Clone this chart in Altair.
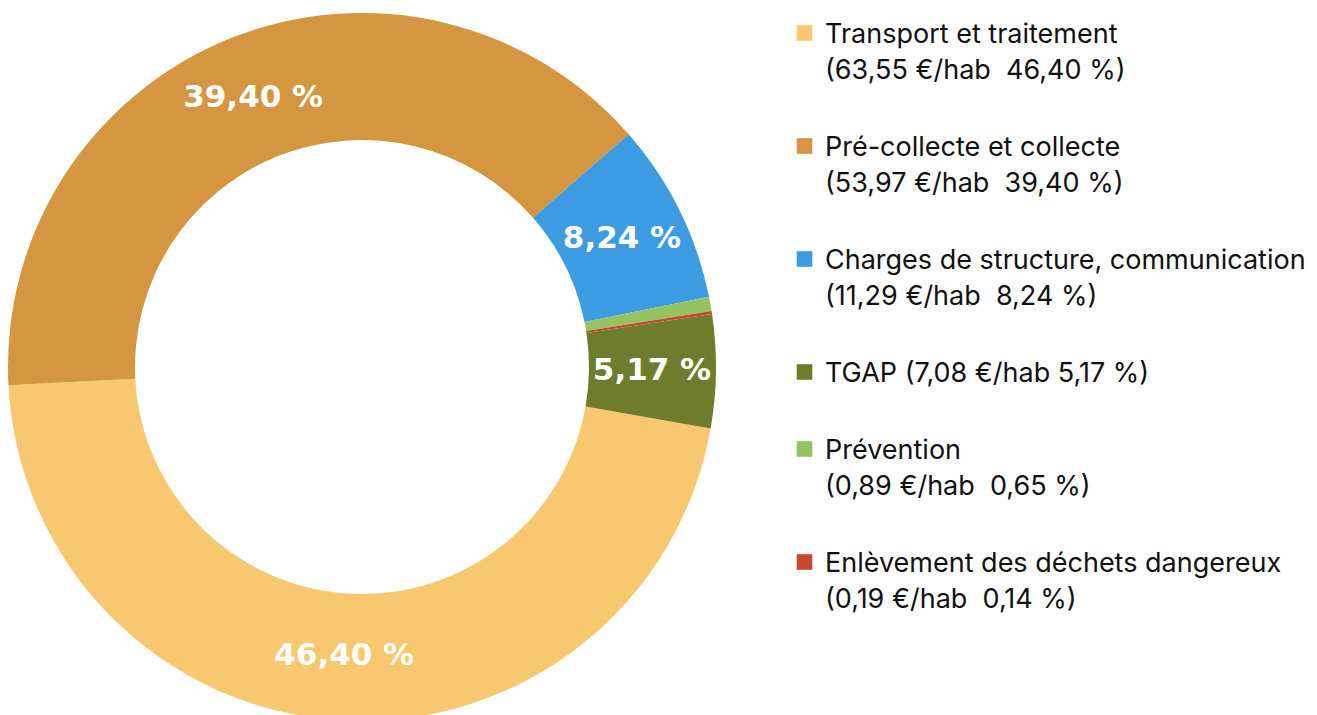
import math
import altair as alt
import pandas as pd

# Data (clockwise order in the ring, starting just below 3 o'clock)
categories = [
    "Transport et traitement",
    "Pré-collecte et collecte",
    "Charges de structure, communication",
    "Prévention",
    "Enlèvement des déchets dangereux",
    "TGAP",
]
eur_per_hab = [63.55, 53.97, 11.29, 0.89, 0.19, 7.08]
percents = [46.40, 39.40, 8.24, 0.65, 0.14, 5.17]
colors = ["#F7C86F", "#D49641", "#3C9BE1", "#93C461", "#C8472E", "#6E7C2B"]
legend_order = [
    "Transport et traitement",
    "Pré-collecte et collecte",
    "Charges de structure, communication",
    "TGAP",
    "Prévention",
    "Enlèvement des déchets dangereux",
]


def fr(v):
    return f"{v:.2f}".replace(".", ",")


def legend_label(cat, e, p):
    if cat == "TGAP":
        return f"TGAP ({fr(e)} €/hab {fr(p)} %)"
    return f"{cat}|({fr(e)} €/hab \u00a0{fr(p)} %)"


labels = [legend_label(c, e, p) for c, e, p in zip(categories, eur_per_hab, percents)]
df = pd.DataFrame({
    "cat": categories,
    "legend": labels,
    "pct": percents,
    "order": list(range(len(categories))),
    "txt": [f"{fr(p)} %" if p > 5 else "" for p in percents],
})

color_map = dict(zip(categories, colors))
legend_domain = [labels[categories.index(c)] for c in legend_order]
legend_range = [color_map[c] for c in legend_order]

start = math.radians(100)

base = alt.Chart(df).encode(
    theta=alt.Theta("pct:Q", stack=True,
                    scale=alt.Scale(range=[start, start + 2 * math.pi])),
    order=alt.Order("order:Q"),
)

arcs = base.mark_arc(innerRadius=227, outerRadius=354, strokeWidth=0).encode(
    color=alt.Color(
        "legend:N",
        scale=alt.Scale(domain=legend_domain, range=legend_range),
        legend=alt.Legend(
            title=None,
            orient="none",
            legendX=783,
            legendY=-5,
            symbolType="M-0.78,0.37H0.78V1.93H-0.78Z",
            symbolSize=400,
            symbolStrokeWidth=0,
            symbolOpacity=1,
            labelFont="Inter",
            labelFontSize=27,
            labelColor="#111111",
            labelLimit=600,
            labelExpr="split(datum.label, '|')",
            labelOffset=7,
            rowPadding=37,
            labelBaseline="top",
        ),
    )
)

text = base.mark_text(
    radius=290, font="DejaVu Sans", fontWeight="bold", fontSize=31, color="white"
).encode(text="txt:N")

chart = (
    alt.layer(arcs, text)
    .properties(width=708, height=708, padding=0)
    .configure(style={"guide-label": {"lineHeight": 36}})
    .configure_view(strokeWidth=0)
)

chart.save("out.html", embed_options={"renderer": "svg", "actions": False})
